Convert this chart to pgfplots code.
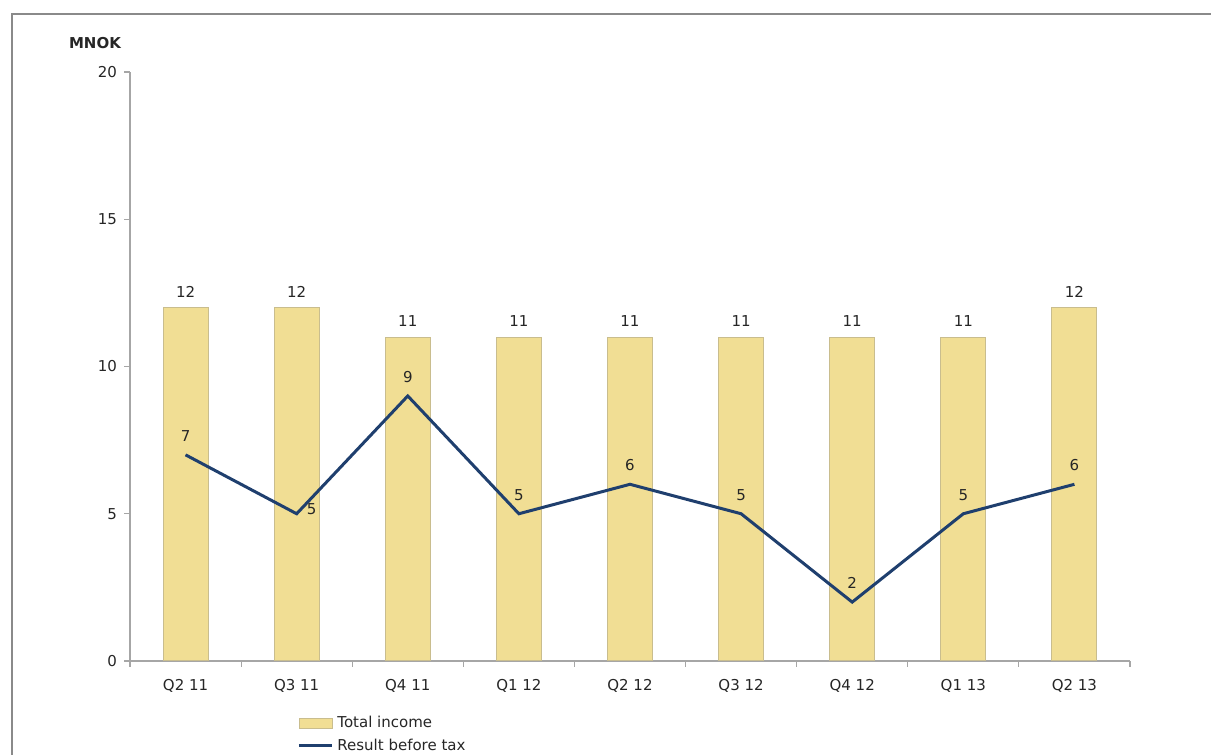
\documentclass[border=0pt]{standalone}
\usepackage{fontspec}
\setmainfont{DejaVu Sans}
\usepackage{pgfplots}
\pgfplotsset{compat=1.18}
\definecolor{barfill}{HTML}{F1DE94}
\definecolor{baredge}{HTML}{C9BD8E}
\definecolor{linecol}{HTML}{1F3F6E}
\definecolor{axisgray}{HTML}{A6A6A6}
\definecolor{framegray}{HTML}{8A8A8A}
\begin{document}
\begin{tikzpicture}[x=1pt,y=1pt]
\useasboundingbox (0,0) rectangle (605.5,377.5);
\draw[framegray, line width=1pt] (6,0) -- (6,370.5) -- (605.5,370.5);
\node[font=\fontsize{7.5}{9}\selectfont\bfseries, text=black!85] at (47.5,356) {MNOK};
\begin{axis}[
 at={(65pt,47pt)}, anchor=south west, scale only axis,
 width=500pt, height=294.5pt,
 xmin=-0.5, xmax=8.5, ymin=0, ymax=20,
 axis x line*=bottom, axis y line*=left,
 axis line style={axisgray, line width=0.6pt, -},
 ytick={0,5,10,15,20},
 xtick={0,...,8},
 xticklabels={Q2 11,Q3 11,Q4 11,Q1 12,Q2 12,Q3 12,Q4 12,Q1 13,Q2 13},
 major x tick style={draw=none},
 minor xtick={-0.5,0.5,...,8.5},
 tick align=outside,
 major tick length=3pt, minor tick length=3pt,
 tick style={axisgray, line width=0.6pt},
 tick label style={font=\fontsize{7.5}{9}\selectfont, text=black!85},
 /pgf/number format/assume math mode=true,
 xticklabel style={yshift=-2.5pt},
 legend style={at={(0.167,-0.0866)}, anchor=north west, draw=none, fill=none,
   font=\fontsize{7.5}{9}\selectfont, text=black!85, row sep=0pt, inner sep=0pt},
 legend cell align=left,
 clip=false,
]
\addplot[ybar, bar width=22.5pt, fill=barfill, draw=baredge, line width=0.5pt,
  nodes near coords, nodes near coords style={font=\fontsize{7.5}{9}\selectfont, text=black!85, yshift=1.5pt},
  legend image code/.code={\draw[fill=barfill,draw=baredge,line width=0.4pt] (0pt,-2.5pt) rectangle (16.5pt,2.5pt);}]
  coordinates {(0,12) (1,12) (2,11) (3,11) (4,11) (5,11) (6,11) (7,11) (8,12)};
\addlegendentry{Total income}
\addplot[linecol, line width=1.5pt, mark=none,
  nodes near coords, point meta=explicit symbolic,
  nodes near coords style={font=\fontsize{7.5}{9}\selectfont, text=black!85, yshift=2.5pt},
  legend image code/.code={\draw[linecol,line width=1.5pt] (0pt,0pt) -- (16.5pt,0pt);}]
  coordinates {(0,7)[7] (1,5)[] (2,9)[9] (3,5)[5] (4,6)[6] (5,5)[5] (6,2)[2] (7,5)[5] (8,6)[6]};
\addlegendentry{Result before tax}
\node[font=\fontsize{7.5}{9}\selectfont, text=black!85, anchor=south west, inner sep=1pt] at (axis cs:1.07,4.9) {5};
\end{axis}
\end{tikzpicture}
\end{document}
